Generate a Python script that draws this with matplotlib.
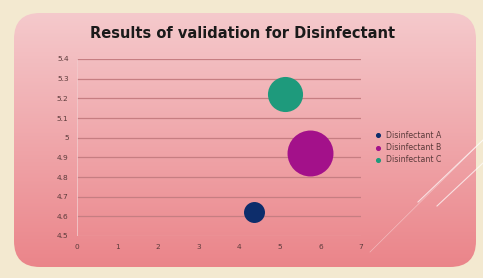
import matplotlib
matplotlib.use("Agg")
import matplotlib.pyplot as plt
import numpy as np
from matplotlib.patches import FancyBboxPatch

# Data
names = ["Disinfectant A", "Disinfectant B", "Disinfectant C"]
x_vals = [4.36, 5.74, 5.12]
y_vals = [4.62, 4.92, 5.22]
bubble = [1.0, 4.8, 2.8]
colors = ["#0d2d6b", "#a3118a", "#1e9a7c"]
y_ticks = [4.5, 4.6, 4.7, 4.8, 4.9, 5, 5.1, 5.2, 5.3, 5.4]
y_labels = ["4.5", "4.6", "4.7", "4.8", "4.9", "5", "5.1", "5.2", "5.3", "5.4"]
x_ticks = [0, 1, 2, 3, 4, 5, 6, 7]

W, H = 483, 278
fig = plt.figure(figsize=(W / 100, H / 100), dpi=100)
fig.patch.set_facecolor("#f3e9d0")

# pink card with vertical gradient
bg = fig.add_axes([0, 0, 1, 1], zorder=0)
bg.set_xlim(0, W)
bg.set_ylim(H, 0)
bg.axis("off")
grad = np.linspace(0, 1, 256).reshape(-1, 1)
top = np.array([0.96, 0.79, 0.80])
bot = np.array([0.92, 0.52, 0.54])
img = top + (bot - top) * grad[..., None]
card = FancyBboxPatch((14, 13), 462, 254, boxstyle="round,pad=0,rounding_size=26",
                      transform=bg.transData, facecolor="none", edgecolor="none")
bg.add_patch(card)
im = bg.imshow(img, extent=[14, 476, 267, 13], aspect="auto", zorder=1)
im.set_clip_path(card)
# decorative diagonal lines on the right
bg.plot([418, 483], [202, 140], color="white", lw=0.8, alpha=0.7, zorder=2)
bg.plot([437, 483], [206, 163], color="white", lw=0.8, alpha=0.7, zorder=2)
bg.plot([370, 483], [252, 140], color="white", lw=0.5, alpha=0.4, zorder=2)

# plot area
ax = fig.add_axes([77 / W, 1 - 236 / H, (361 - 77) / W, (236 - 59) / H], zorder=3)
ax.patch.set_alpha(0)
for yv in y_ticks[1:]:
    ax.axhline(yv, color="#c67e82", lw=0.9, zorder=1)
ax.axhline(4.5, color="#f2c9cb", lw=0.8, zorder=1)
ax.axvline(0, color="#f2c9cb", lw=0.6, zorder=1)

for xv, yv, b, c, n in zip(x_vals, y_vals, bubble, colors, names):
    ax.scatter(xv, yv, s=b * 228, color=c, zorder=3, linewidths=0)
    ax.scatter([], [], s=7, color=c, label=n)

ax.set_xlim(0, 7)
ax.set_ylim(4.5, 5.4)
ax.set_xticks(x_ticks)
ax.set_yticks(y_ticks)
ax.set_yticklabels(y_labels)
ax.tick_params(length=0, labelsize=5.3, colors="#5a3a3a", pad=6)
for s in ax.spines.values():
    s.set_visible(False)

ax.legend(loc="center left", bbox_to_anchor=(1.02, 0.5), frameon=False,
          fontsize=5.6, handletextpad=0.1, labelspacing=0.45, labelcolor="#5a3a3a",
          borderaxespad=0)

fig.text(243 / W, 1 - 33 / H, "Results of validation for Disinfectant",
         ha="center", va="center", fontsize=10.5, fontweight="bold", color="#1a1a1a")

fig.savefig("out.png", dpi=100, facecolor=fig.get_facecolor())
